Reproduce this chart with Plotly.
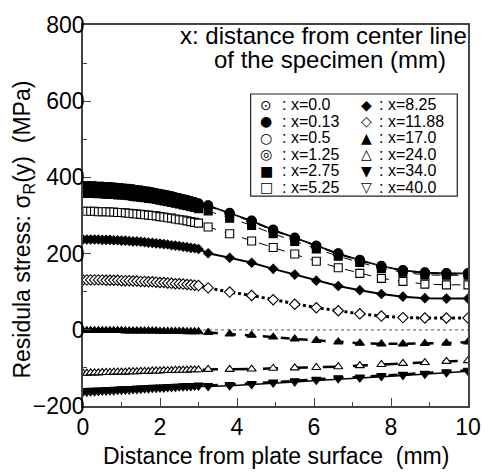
import plotly.graph_objects as go

# ---------------- data ----------------
depth_dense = [0.0, 0.1, 0.2, 0.3, 0.4, 0.5, 0.6, 0.7, 0.8, 0.9, 1.0, 1.1, 1.2, 1.3, 1.4, 1.5,
               1.6, 1.7, 1.8, 1.9, 2.0, 2.1, 2.2, 2.3, 2.4, 2.5, 2.6, 2.7, 2.8, 2.9, 3.0]
depth_sparse = [3.25, 3.81, 4.38, 4.94, 5.5, 6.06, 6.63, 7.19, 7.75, 8.31, 8.88, 9.44, 10.0]

x_labels = ["0.0", "0.13", "0.5", "1.25", "2.75", "5.25",
            "8.25", "11.88", "17.0", "24.0", "34.0", "40.0"]

s_0_0_dense = [377, 377, 377, 377, 376, 376, 375, 375, 374, 373, 372, 371, 370, 369, 367, 366,
               364, 363, 361, 359, 357, 355, 353, 351, 348, 346, 343, 341, 338, 335, 332]
s_0_0_sparse = [327, 307, 287, 263, 242, 221, 201, 184, 168, 157, 151, 149, 149]

s_0_13_dense = [375, 375, 375, 375, 374, 374, 373, 373, 372, 371, 370, 369, 368, 367, 365, 364,
                362, 361, 359, 357, 355, 353, 351, 349, 346, 344, 341, 339, 336, 333, 330]
s_0_13_sparse = [325, 305, 285, 261, 240, 219, 199, 182, 166, 155, 149, 147, 147]

s_0_5_dense = [376, 376, 376, 376, 375, 375, 374, 374, 373, 372, 371, 370, 369, 368, 366, 365,
               363, 362, 360, 358, 356, 354, 352, 350, 347, 345, 342, 340, 337, 334, 331]
s_0_5_sparse = [326, 306, 286, 262, 241, 220, 200, 183, 167, 156, 150, 148, 148]

s_1_25_dense = [374, 374, 374, 374, 373, 373, 372, 372, 371, 370, 369, 368, 367, 366, 364, 363,
                361, 360, 358, 356, 354, 352, 350, 348, 345, 343, 340, 338, 335, 332, 329]
s_1_25_sparse = [324, 304, 284, 260, 239, 218, 198, 181, 165, 154, 148, 146, 146]

s_2_75_dense = [358, 358, 358, 358, 357, 357, 356, 356, 355, 354, 354, 353, 352, 350, 349, 348,
                347, 345, 344, 342, 340, 338, 336, 334, 332, 330, 328, 326, 323, 321, 318]
s_2_75_sparse = [312, 293, 274, 252, 232, 212, 193, 177, 161, 151, 144, 143, 143]

s_5_25_dense = [311, 311, 311, 311, 310, 310, 310, 309, 309, 308, 308, 307, 306, 305, 304, 303,
                302, 301, 300, 299, 297, 296, 294, 293, 291, 289, 288, 286, 284, 282, 280]
s_5_25_sparse = [270, 252, 233, 216, 199, 180, 163, 148, 135, 127, 120, 118, 118]

s_8_25_dense = [237, 237, 237, 237, 237, 236, 236, 236, 235, 235, 234, 234, 233, 232, 232, 231,
                230, 229, 228, 227, 226, 225, 224, 222, 221, 220, 218, 217, 215, 214, 212]
s_8_25_sparse = [201, 189, 176, 160, 145, 129, 115, 104, 94, 87, 83, 82, 82]

s_11_88_dense = [131, 131, 131, 131, 131, 131, 130, 130, 130, 130, 129, 129, 129, 128, 128, 127,
                 127, 126, 126, 125, 124, 124, 123, 122, 121, 121, 120, 119, 118, 117, 116]
s_11_88_sparse = [110, 99, 90, 79, 67, 58, 50, 42, 36, 32, 31, 31, 31]

s_17_0_dense = [-2, -2, -2, -2, -2, -2, -2, -2, -2, -2, -2, -3, -3, -3, -3, -3,
                -3, -3, -3, -3, -4, -4, -4, -4, -4, -4, -4, -5, -5, -5, -5]
s_17_0_sparse = [-7, -11, -14, -19, -24, -28, -32, -35, -37, -37, -36, -35, -32]

s_24_0_dense = [-114, -114, -113, -113, -113, -112, -112, -112, -111, -111, -111, -111, -110, -110,
                -110, -109, -109, -109, -108, -108, -108, -107, -107, -107, -106, -106, -106,
                -106, -105, -105, -105]
s_24_0_sparse = [-104, -104, -103, -101, -100, -99, -97, -94, -91, -88, -86, -83, -81]

s_34_0_dense = [-160, -160, -159, -159, -158, -158, -157, -157, -156, -156, -155, -155, -154, -154,
                -153, -153, -152, -152, -151, -151, -150, -150, -149, -149, -148, -148, -147,
                -147, -146, -146, -145]
s_34_0_sparse = [-146, -144, -141, -137, -134, -130, -126, -124, -120, -117, -114, -110, -106]

s_40_0_dense = [-164, -164, -163, -163, -162, -161, -161, -160, -160, -159, -159, -158, -158, -157,
                -157, -156, -155, -155, -154, -154, -153, -153, -152, -152, -151, -150, -150,
                -149, -149, -148, -148]
s_40_0_sparse = [-149, -147, -144, -140, -137, -133, -129, -127, -123, -120, -117, -113, -109]

series_values = {
    "0.0": (s_0_0_dense, s_0_0_sparse),
    "0.13": (s_0_13_dense, s_0_13_sparse),
    "0.5": (s_0_5_dense, s_0_5_sparse),
    "1.25": (s_1_25_dense, s_1_25_sparse),
    "2.75": (s_2_75_dense, s_2_75_sparse),
    "5.25": (s_5_25_dense, s_5_25_sparse),
    "8.25": (s_8_25_dense, s_8_25_sparse),
    "11.88": (s_11_88_dense, s_11_88_sparse),
    "17.0": (s_17_0_dense, s_17_0_sparse),
    "24.0": (s_24_0_dense, s_24_0_sparse),
    "34.0": (s_34_0_dense, s_34_0_sparse),
    "40.0": (s_40_0_dense, s_40_0_sparse),
}

# ---------------- styles ----------------
K = "black"
styles = {
    "0.0":   dict(symbol="circle-open-dot", size=9, fill=K, dash="solid", width=1.2, glyph="\u2299"),
    "0.13":  dict(symbol="circle", size=9, fill=K, dash="solid", width=1.0, glyph="\u25CF"),
    "0.5":   dict(symbol="circle", size=9, fill="white", dash="dash", width=1.0, glyph="\u25CB"),
    "1.25":  dict(symbol="circle", size=9, fill="white", dash="dash", width=1.0, glyph="\u25CE"),
    "2.75":  dict(symbol="square", size=8, fill=K, dash="dash", width=1.0, glyph="\u25A0"),
    "5.25":  dict(symbol="square", size=8, fill="white", dash="dash", width=1.0, glyph="\u25A1"),
    "8.25":  dict(symbol="diamond", size=7, fill=K, dash="solid", width=2.0, glyph="\u25C6"),
    "11.88": dict(symbol="diamond", size=8, fill="white", dash="dot", width=3.0, glyph="\u25C7"),
    "17.0":  dict(symbol="triangle-up", size=8, fill=K, dash="dash", width=2.5, glyph="\u25B2"),
    "24.0":  dict(symbol="triangle-up", size=8, fill="white", dash="longdash", width=2.5, glyph="\u25B3"),
    "34.0":  dict(symbol="triangle-down", size=8, fill=K, dash="dash", width=2.5, glyph="\u25BC"),
    "40.0":  dict(symbol="triangle-down", size=8, fill="white", dash="solid", width=1.5, glyph="\u25BD"),
}

draw_order = ["40.0", "34.0", "24.0", "17.0", "11.88", "8.25",
              "5.25", "2.75", "1.25", "0.5", "0.13", "0.0"]

FONT = "Liberation Sans, Arial, Helvetica, sans-serif"

fig = go.Figure()

# dotted zero reference line
fig.add_shape(type="line", x0=0, x1=10, y0=0, y1=0, xref="x", yref="y",
              line=dict(color="#777777", width=1.3, dash="dot"), layer="below")

for lab in draw_order:
    dense, sparse = series_values[lab]
    st = styles[lab]
    xs = depth_dense + depth_sparse
    ys = dense + sparse
    fig.add_trace(go.Scatter(x=xs, y=ys, mode="lines", showlegend=False,
                             line=dict(color=K, width=st["width"], dash=st["dash"]),
                             hoverinfo="skip"))
    fig.add_trace(go.Scatter(x=xs, y=ys, mode="markers", showlegend=False,
                             name=": x=" + lab,
                             marker=dict(symbol=st["symbol"], size=st["size"], color=st["fill"],
                                         line=dict(color=K, width=1.1))))
    if lab == "1.25":
        fig.add_trace(go.Scatter(x=xs, y=ys, mode="markers", showlegend=False,
                                 marker=dict(symbol="circle-open", size=4,
                                             line=dict(color=K, width=1.0))))

# ---------------- layout ----------------
L, R, T, B = 83, 15, 14, 70
W, H = 493, 476
pw, ph = W - L - R, H - T - B


def px_x(p):
    return (p - L) / pw


def px_y(p):
    return (H - B - p) / ph


annotations = []
# top-right explanatory text (two lines)
annotations.append(dict(text="x: distance from center line", x=px_x(330), y=px_y(25),
                        xref="paper", yref="paper", xanchor="center", yanchor="middle",
                        showarrow=False, font=dict(family=FONT, size=24, color=K)))
annotations.append(dict(text="of the specimen (mm)", x=px_x(336), y=px_y(49),
                        xref="paper", yref="paper", xanchor="center", yanchor="middle",
                        showarrow=False, font=dict(family=FONT, size=24, color=K)))

# manual boxed legend: two columns of six rows
row_y = [96, 113, 130, 147, 164, 181]
col_glyph_x = [271, 374]
col_text_x = [286, 386]
for i, lab in enumerate(x_labels):
    c, r = divmod(i, 6)
    annotations.append(dict(text=styles[lab]["glyph"], x=px_x(col_glyph_x[c]), y=px_y(row_y[r]),
                            xref="paper", yref="paper", xanchor="center", yanchor="middle",
                            showarrow=False, borderpad=0,
                            font=dict(family="DejaVu Sans, " + FONT, size=14, color=K)))
    annotations.append(dict(text=":\u00a0x=" + lab, x=px_x(col_text_x[c]), y=px_y(row_y[r]),
                            xref="paper", yref="paper", xanchor="left", yanchor="middle",
                            showarrow=False, borderpad=0,
                            font=dict(family=FONT, size=16, color=K)))

# axis titles
annotations.append(dict(text="Distance from plate surface\u00a0\u00a0(mm)", x=px_x(281), y=px_y(457),
                        xref="paper", yref="paper", xanchor="center", yanchor="middle",
                        showarrow=False, font=dict(family=FONT, size=23, color=K)))
annotations.append(dict(text="Residula stress: \u03c3<sub>R</sub>(y)\u00a0\u00a0(MPa)",
                        x=px_x(22), y=px_y(225), textangle=-90,
                        xref="paper", yref="paper", xanchor="center", yanchor="middle",
                        showarrow=False, font=dict(family=FONT, size=23, color=K)))

shapes_extra = [dict(type="rect", xref="paper", yref="paper",
                     x0=px_x(255), x1=px_x(467), y0=px_y(190), y1=px_y(85),
                     line=dict(color="#222222", width=1.2), fillcolor="white", layer="below")]

axis_common = dict(showline=True, linecolor="#444444", linewidth=1.5, mirror=True,
                   ticks="inside", ticklen=8, tickwidth=1.2, tickcolor="#444444",
                   showgrid=False, zeroline=False,
                   tickfont=dict(family=FONT, size=23, color=K))

fig.update_layout(
    width=W, height=H,
    margin=dict(l=L, r=R, t=T, b=B),
    paper_bgcolor="white", plot_bgcolor="white",
    showlegend=False,
    xaxis=dict(range=[0, 10], dtick=2, tick0=0,
               minor=dict(dtick=1, ticks="inside", ticklen=4, tickcolor="#444444"),
               **axis_common),
    yaxis=dict(range=[-200, 800], dtick=200, tick0=0, ticklabelstandoff=-8,
               minor=dict(dtick=100, ticks="inside", ticklen=4, tickcolor="#444444"),
               **axis_common),
    annotations=annotations,
)
for s in shapes_extra:
    fig.add_shape(**s)

fig.write_html("out.html")
